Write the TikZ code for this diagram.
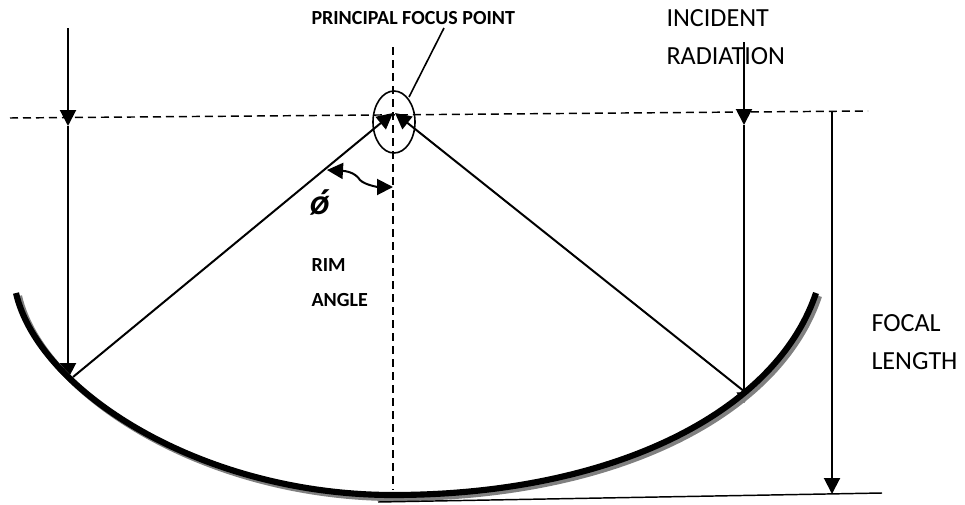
\documentclass[tikz,border=0pt]{standalone}
\usepackage{fontspec}
\setmainfont{Carlito}
\usetikzlibrary{arrows.meta,shapes.geometric}
\tikzset{every picture/.style={line width=0.75pt}}
\tikzset{
  ray/.style={line width=1.5pt},
  thinray/.style={line width=1.2pt},
  guide/.style={line width=1.1pt,dash pattern=on 6pt off 3.75pt},
  headtip/.style={-{Triangle[length=12pt,width=12pt]}},
  bigtext/.style={anchor=west,inner sep=0pt,font=\fontsize{19.6}{22}\selectfont},
  boldtext/.style={anchor=west,inner sep=0pt,font=\fontsize{15}{18}\selectfont\bfseries},
}

\begin{document}
\begin{tikzpicture}[x=0.75pt,y=0.75pt,yscale=-1,xscale=1]
\useasboundingbox (0,0) rectangle (965,504);

%Named points
\coordinate (hleft) at (10,118);
\coordinate (hright) at (868,111);
\coordinate (axistop) at (393,47);
\coordinate (axisbot) at (393,490);
\coordinate (raylefttop) at (68,28);
\coordinate (raylefthit) at (68,379);
\coordinate (rayleftmid) at (68,126);
\coordinate (rayrighttop) at (744,42);
\coordinate (rayrighthit) at (744,403);
\coordinate (rayrightmid) at (744,125);
\coordinate (reflleft) at (73,377);
\coordinate (reflright) at (745,392);
\coordinate (focusleft) at (393,113);
\coordinate (focusright) at (395,113);
\coordinate (focaltop) at (832,112);
\coordinate (focalbot) at (832,494);
\coordinate (baseleft) at (378,502);
\coordinate (baseright) at (882,493);
\coordinate (pointertop) at (444,28);
\coordinate (pointerbot) at (409,97);

%Dashed lines
\draw [guide]  (hleft) -- (hright) ;
\draw [guide]  (axistop) -- (axisbot) ;

%Circle round the focus
\node (focusring) [draw,ellipse,minimum width=31.5pt,minimum height=46.5pt,inner sep=0pt,thinray] at (394,122) {};

%Pointer to the focus
\draw [thinray]  (pointertop) -- (pointerbot) ;

%Rays
\draw [ray,headtip]  (raylefttop) -- (rayleftmid) ;
\draw [ray,headtip]  (rayleftmid) -- (raylefthit) ;
\draw [ray,headtip]  (rayrighttop) -- (rayrightmid) ;
\draw [ray,-{Triangle[length=8pt,width=11pt]}]  (rayrightmid) -- (rayrighthit) ;
\draw [ray,headtip]  (reflleft) -- (focusleft) ;
\draw [ray,headtip]  (reflright) -- (focusright) ;
\draw [ray,headtip]  (focaltop) -- (focalbot) ;

%Dish shadow and dish
\draw [color={rgb, 255:red, 128; green, 128; blue, 128 }  ,line width=4.6pt]  (19,296) .. controls (41,393) and (203,498) .. (396,498) .. controls (611,498) and (778,418) .. (819,296) ;
\draw [line width=4.6pt]  (16,293) .. controls (38,390) and (200,495) .. (393,495) .. controls (608,495) and (775,415) .. (816,293) ;

%Base line
\draw [line width=1.1pt]  (baseleft) -- (baseright) ;

%Rim angle arrow
\draw [ray,{Triangle[length=12pt,width=12pt]}-{Triangle[length=12pt,width=12pt]}]  (327,170) .. controls (345,171) and (355,172) .. (360,180) .. controls (365,185) and (378,187) .. (393,187) ;

% Text Node
\node (focustext) [boldtext] at (311,18) {PRINCIPAL FOCUS POINT};
\node (incidenttext) [bigtext] at (666,18) {INCIDENT};
\node (radiationtext) [bigtext] at (666,56) {RADIATION};
\node (focaltext) [bigtext] at (871,323) {FOCAL};
\node (lengthtext) [bigtext] at (871,361) {LENGTH};
\node (rimtext) [boldtext] at (311,265) {RIM};
\node (angletext) [boldtext] at (311,300) {ANGLE};
\node (phitext) [inner sep=0pt,font=\fontsize{27}{30}\selectfont\bfseries\itshape] at (320,202) {ǿ};

\end{tikzpicture}
\end{document}
